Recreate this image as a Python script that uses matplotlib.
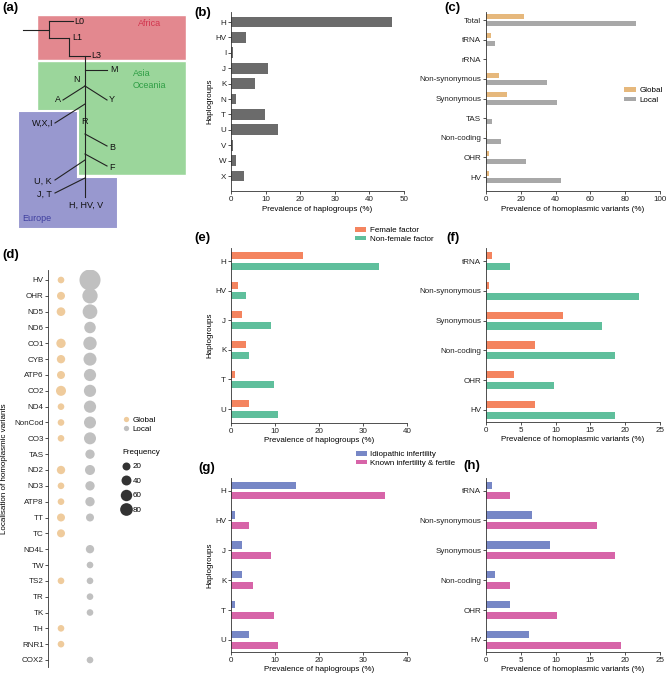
import numpy as np
import matplotlib
matplotlib.use("Agg")
import matplotlib.pyplot as plt
from matplotlib.patches import Polygon
from matplotlib.lines import Line2D

W, H = 669, 676
FS = 5.8
plt.rcParams['font.family'] = ['Liberation Sans', 'DejaVu Sans']
plt.rcParams['font.size'] = FS

# ---- data ----
# (b) haplogroups, all patients
hg_all = ["H", "HV", "I", "J", "K", "N", "T", "U", "V", "W", "X"]
hg_all_prev = [46.4, 4.2, 0.7, 10.6, 6.8, 1.4, 9.9, 13.7, 0.7, 1.4, 3.7]

# (c) homoplasmic variants, global vs local
var_types = ["Total", "tRNA", "rRNA", "Non-synonymous", "Synonymous", "TAS",
             "Non-coding", "OHR", "HV"]
global_prev = [22.0, 2.9, 0, 7.7, 12.1, 0, 0.5, 1.5, 1.5]
local_prev = [86.0, 5.2, 0, 34.9, 41.0, 3.3, 8.4, 22.8, 43.3]

# (d) localisation bubbles
nan = np.nan
loci = ["HV", "OHR", "ND5", "ND6", "CO1", "CYB", "ATP6", "CO2", "ND4", "NonCod",
        "CO3", "TAS", "ND2", "ND3", "ATP8", "TT", "TC", "ND4L", "TW", "TS2",
        "TR", "TK", "TH", "RNR1", "COX2"]
global_freq = [10, 20, 26, nan, 33, 23, 20, 41, 10, 10, 10, nan, 23, 10, 10,
               20, 20, nan, nan, 10, nan, nan, 10, 10, nan]
local_freq = [286, 130, 118, 61, 92, 85, 72, 72, 72, 69, 69, 33, 41, 33, 33,
              20, nan, 23, 10, 10, 10, 10, nan, nan, 10]
freq_breaks = [20, 40, 60, 80]

# (e) / (g) haplogroups by subgroup
hg_sub = ["H", "HV", "J", "K", "T", "U"]
female = [16.4, 1.7, 2.5, 3.3, 0.8, 4.2]
nonfemale = [33.6, 3.3, 9.0, 4.2, 9.8, 10.7]
idiopathic = [14.7, 0.8, 2.5, 2.5, 0.8, 4.2]
known = [35.1, 4.2, 9.0, 5.0, 9.8, 10.7]

# (f) / (h) variants by subgroup
var_sub = ["tRNA", "Non-synonymous", "Synonymous", "Non-coding", "OHR", "HV"]
female_var = [0.9, 0.5, 11.0, 7.0, 4.0, 7.0]
nonfemale_var = [3.5, 22.0, 16.7, 18.5, 9.7, 18.5]
idio_var = [0.9, 6.6, 9.2, 1.3, 3.5, 6.2]
known_var = [3.5, 15.9, 18.5, 3.5, 10.2, 19.4]

# (a) tree drawing (pixel space of panel a)
africa_box = [(37, 15), (186, 15), (186, 60), (37, 60)]
asia_box = [(37, 61), (186, 61), (186, 175), (37, 175)]
europe_box = [(18, 111), (78, 111), (78, 177), (118, 177), (118, 229), (18, 229)]
tree_segments = [((23, 30), (49, 30)), ((49, 21), (49, 38)), ((49, 21), (73, 21)),
                 ((49, 38), (69, 38)), ((69, 38), (69, 56)), ((69, 56), (90, 56)),
                 ((85, 56), (85, 197)), ((85, 70), (107, 70)), ((85, 86), (63, 100)),
                 ((85, 86), (107, 100)), ((85, 104), (55, 123)), ((85, 134), (107, 146)),
                 ((85, 154), (107, 166)), ((85, 160), (55, 180)), ((85, 178), (55, 193))]
tree_labels = [("L0", 74, 21, "left"), ("L1", 72, 38, "left"), ("L3", 91, 56, "left"),
               ("M", 110, 70, "left"), ("N", 77, 79, "center"), ("A", 58, 100, "center"),
               ("Y", 112, 100, "center"), ("W,X,I", 53, 123, "right"), ("R", 85, 122, "center"),
               ("B", 112, 147, "center"), ("F", 112, 167, "center"), ("U, K", 52, 181, "right"),
               ("J, T", 52, 194, "right"), ("H, HV, V", 86, 205, "center")]

c_gray = "#6b6b6b"
c_glob, c_loc = "#e6b87c", "#a8a8a8"
c_glob_d, c_loc_d = "#efcb9c", "#c0c0c0"
c_fem, c_nonfem = "#f4845f", "#5fbf9c"
c_idio, c_known = "#7787c6", "#d764a8"

fig = plt.figure(figsize=(W / 100, H / 100), dpi=100)


def axes_px(x0, y0, x1, y1):
    return fig.add_axes([x0 / W, 1 - y1 / H, (x1 - x0) / W, (y1 - y0) / H])


def style(ax):
    for s in ["top", "right"]:
        ax.spines[s].set_visible(False)
    for s in ["left", "bottom"]:
        ax.spines[s].set_linewidth(0.6)
        ax.spines[s].set_color("#333333")
    ax.tick_params(length=2.5, width=0.6, pad=1, labelsize=FS, colors="#333333",
                   labelcolor="#222222")


def cat_axes(rect, n, first, last):
    x0, y0, x1, y1 = rect
    ax = axes_px(x0, y0, x1, y1)
    sp = (last - first) / (n - 1)
    ax.set_ylim((y1 - first) / sp, (y0 - first) / sp)
    style(ax)
    return ax


def fig_anchor(x, y):
    return (x / W, 1 - y / H)


def bubble_area(f):
    d = 3.3 + 1.05 * np.sqrt(np.asarray(f, dtype=float))
    return (d * 0.72) ** 2


def label(x, y, t):
    fig.text(x / W, 1 - y / H, t, fontsize=9.5, fontweight="bold", va="center", ha="left")


# ---- (a) tree ----
axa = axes_px(0, 0, 230, 235)
axa.set_xlim(0, 230)
axa.set_ylim(235, 0)
axa.axis("off")
axa.add_patch(Polygon(africa_box, closed=True, fc="#e3888f", ec="white", lw=1))
axa.add_patch(Polygon(asia_box, closed=True, fc="#9bd69b", ec="white", lw=1))
axa.add_patch(Polygon(europe_box, closed=True, fc="#9898cf", ec="white", lw=1.5))
for (p, q) in tree_segments:
    axa.plot([p[0], q[0]], [p[1], q[1]], color="#222222", lw=0.8)
for t, x, y, ha in tree_labels:
    axa.text(x, y, t, fontsize=6.5, ha=ha, va="center", color="#111111")
axa.text(150, 23, "Africa", fontsize=6.5, ha="center", va="center", color="#d2354e")
axa.text(133, 73, "Asia", fontsize=6.5, ha="left", va="center", color="#2f9e45")
axa.text(133, 85, "Oceania", fontsize=6.5, ha="left", va="center", color="#2f9e45")
axa.text(22, 219, "Europe", fontsize=6.5, ha="left", va="center", color="#3f3f9f")

# ---- (b) ----
axb = cat_axes((231, 12, 404, 191), len(hg_all), 22, 176)
yb = np.arange(len(hg_all))
axb.barh(yb, hg_all_prev, height=0.69, color=c_gray)
axb.set_yticks(yb, hg_all)
axb.set_xlim(0, 50)
axb.set_xticks(range(0, 51, 10))
axb.set_xlabel("Prevalence of haplogroups (%)", fontsize=FS, labelpad=2.5)
axb.set_ylabel("Haplogroups", fontsize=FS, labelpad=1)

# ---- (c) ----
axc = cat_axes((486, 12, 660, 191), len(var_types), 20, 177)
yc = np.arange(len(var_types))
bg = axc.barh(yc - 0.19, global_prev, height=0.26, color=c_glob, label="Global")
bl = axc.barh(yc + 0.19, local_prev, height=0.26, color=c_loc, label="Local")
axc.set_yticks(yc, var_types)
axc.set_xlim(0, 100)
axc.set_xticks(range(0, 101, 20))
axc.set_xlabel("Prevalence of homoplasmic variants (%)", fontsize=FS, labelpad=2.5)
fig.legend(handles=[bg, bl], loc="upper left", bbox_to_anchor=fig_anchor(624, 87),
           frameon=False, fontsize=FS, handlelength=1.5, handleheight=0.5,
           handletextpad=0.4, labelspacing=0.3, borderpad=0, borderaxespad=0)

# ---- (d) ----
axd = axes_px(48, 270, 110, 667)
n = len(loci)
sp = (660 - 280) / (n - 1)
axd.set_ylim((667 - 280) / sp, (270 - 280) / sp)
axd.set_xlim(-13 / 29, 1 + 20 / 29)
yd = np.arange(n)
axd.scatter(np.zeros(n), yd, s=bubble_area(global_freq), color=c_glob_d, linewidths=0)
axd.scatter(np.ones(n), yd, s=bubble_area(local_freq), color=c_loc_d, linewidths=0)
style(axd)
axd.spines["bottom"].set_visible(False)
axd.set_xticks([])
axd.set_yticks(yd, loci)
axd.tick_params(axis="y", length=2)
axd.set_ylabel("Localisation of homoplasmic variants", fontsize=FS, labelpad=5)
d_col = [Line2D([], [], ls="", marker="o", markersize=5.3 * 0.72, mfc=c, mec="none")
         for c in (c_glob_d, c_loc_d)]
fig.legend(handles=d_col, labels=["Global", "Local"], loc="upper left",
           bbox_to_anchor=fig_anchor(122, 416), frameon=False, fontsize=FS,
           handlelength=1.0, handletextpad=0.3, labelspacing=0.25, borderpad=0,
           borderaxespad=0)
d_size = [Line2D([], [], ls="", marker="o", markersize=np.sqrt(bubble_area(f)),
                 mfc="#333333", mec="none") for f in freq_breaks]
fig.legend(handles=d_size, labels=[str(f) for f in freq_breaks], title="Frequency",
           title_fontsize=FS, alignment="left", loc="upper left",
           bbox_to_anchor=fig_anchor(122, 449), frameon=False, fontsize=FS,
           handlelength=1.0, handletextpad=0.3, labelspacing=0.85, borderpad=0,
           borderaxespad=0)


def paired(rect, first, last, cats, a, b, ca, cb, la, lb, xmax, step, xlabel, ylabel):
    ax = cat_axes(rect, len(cats), first, last)
    y = np.arange(len(cats))
    ha = ax.barh(y - 0.18, a, height=0.24, color=ca, label=la)
    hb = ax.barh(y + 0.18, b, height=0.24, color=cb, label=lb)
    ax.set_yticks(y, cats)
    ax.set_xlim(0, xmax)
    ax.set_xticks(np.arange(0, xmax + 1, step))
    ax.set_xlabel(xlabel, fontsize=FS, labelpad=1.5)
    if ylabel:
        ax.set_ylabel(ylabel, fontsize=FS, labelpad=1)
    return ax, ha, hb


hap_x = "Prevalence of haplogroups (%)"
var_x = "Prevalence of homoplasmic variants (%)"

# ---- (e) ----
axe, he1, he2 = paired((231, 248, 407, 423), 261, 409, hg_sub, female, nonfemale,
                       c_fem, c_nonfem, "Female factor", "Non-female factor",
                       40, 10, hap_x, "Haplogroups")
fig.legend(handles=[he1, he2], loc="upper left", bbox_to_anchor=fig_anchor(355, 227),
           frameon=False, fontsize=FS, handlelength=1.4, handleheight=0.5,
           handletextpad=0.4, labelspacing=0.2, borderpad=0, borderaxespad=0)

# ---- (f) ----
paired((486, 248, 660, 422), 261, 410, var_sub, female_var, nonfemale_var,
       c_fem, c_nonfem, "Female factor", "Non-female factor", 25, 5, var_x, None)

# ---- (g) ----
axg, hg1, hg2 = paired((231, 478, 407, 652), 490.5, 640, hg_sub, idiopathic, known,
                       c_idio, c_known, "Idiopathic infertility",
                       "Known infertility & fertile", 40, 10, hap_x, "Haplogroups")
fig.legend(handles=[hg1, hg2], loc="upper left", bbox_to_anchor=fig_anchor(356, 451),
           frameon=False, fontsize=FS, handlelength=1.4, handleheight=0.5,
           handletextpad=0.4, labelspacing=0.2, borderpad=0, borderaxespad=0)

# ---- (h) ----
paired((486, 478, 660, 652), 490.5, 640, var_sub, idio_var, known_var,
       c_idio, c_known, "Idiopathic infertility", "Known infertility & fertile",
       25, 5, var_x, None)

for t, x, y in [("(a)", 2, 8), ("(b)", 194, 13), ("(c)", 444, 8), ("(d)", 2, 255),
                ("(e)", 194, 238), ("(f)", 446, 238), ("(g)", 198, 468), ("(h)", 463, 466)]:
    label(x, y, t)

fig.savefig("out.png", dpi=100)
